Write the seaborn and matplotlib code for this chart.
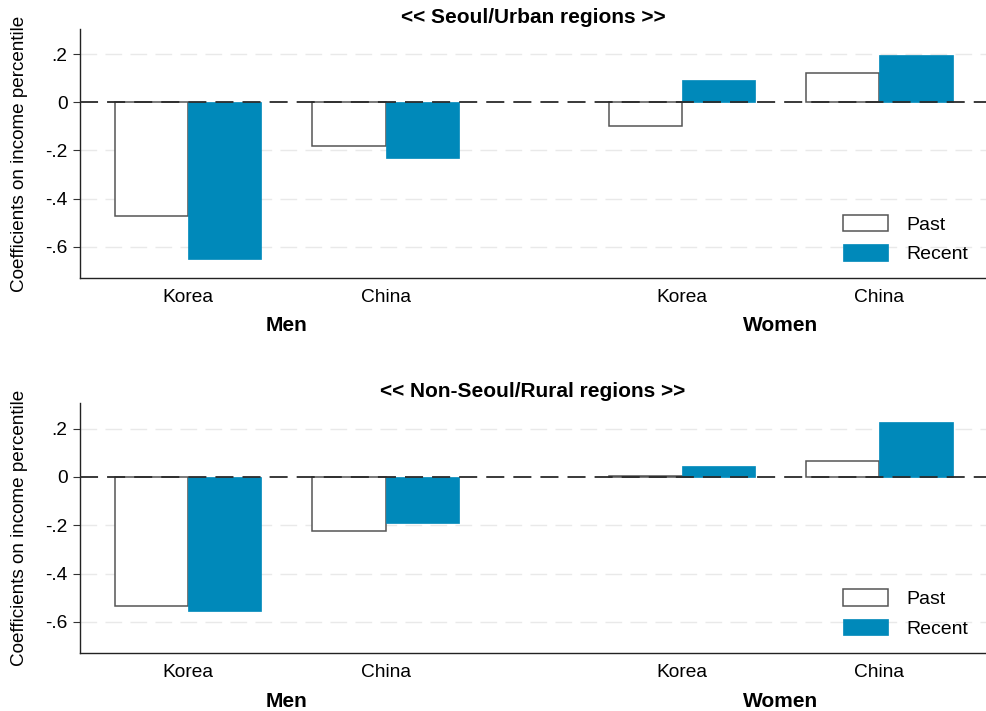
import matplotlib
matplotlib.use("Agg")
import matplotlib.pyplot as plt
import numpy as np
import pandas as pd
import seaborn as sns

# Coefficients on income percentile, by sex and country, for two periods
countries = ["Korea", "China", "Korea", "China"]
genders = ["Men", "Men", "Women", "Women"]
group_pos = [0.0, 1.0, 2.5, 3.5]

urban_past = [-0.473, -0.181, -0.100, 0.123]
urban_recent = [-0.651, -0.233, 0.093, 0.197]
rural_past = [-0.535, -0.225, 0.003, 0.068]
rural_recent = [-0.554, -0.191, 0.046, 0.228]

periods = ["Past", "Recent"]
panel_titles = ["<< Seoul/Urban regions >>", "<< Non-Seoul/Rural regions >>"]
ytick_vals = [0.2, 0.0, -0.2, -0.4, -0.6]
ytick_labels = [".2", "0", "-.2", "-.4", "-.6"]

BLUE = "#0089BA"
EDGE = "#555555"

sns.set_style("white")
plt.rcParams["font.family"] = ["Liberation Sans", "DejaVu Sans"]
plt.rcParams["text.color"] = "black"
plt.rcParams["axes.labelcolor"] = "black"
plt.rcParams["xtick.color"] = "black"
plt.rcParams["ytick.color"] = "black"


def long_frame(past, recent):
    rows = []
    for period, vals in zip(periods, [past, recent]):
        for p, c, g, v in zip(group_pos, countries, genders, vals):
            rows.append({"pos": p, "country": c, "gender": g,
                         "period": period, "coef": v})
    return pd.DataFrame(rows)


fig = plt.figure(figsize=(9.86, 7.11), dpi=100)
W, H = 986.0, 711.0
ax_top = fig.add_axes([80 / W, 1 - 278 / H, 906 / W, 249 / H])
ax_bot = fig.add_axes([80 / W, 1 - 653.3 / H, 906 / W, 250 / H])

panels = [
    (ax_top, long_frame(urban_past, urban_recent), panel_titles[0], 0.254),
    (ax_bot, long_frame(rural_past, rural_recent), panel_titles[1], 0.256),
]

for ax, df, title, leg_y in panels:
    sns.barplot(data=df, x="pos", y="coef", hue="period", hue_order=periods,
                native_scale=True, width=0.742, dodge=True, saturation=1,
                palette={"Past": "white", "Recent": BLUE},
                errorbar=None, legend=False, ax=ax, zorder=2)

    for cont, period in zip(ax.containers, periods):
        for bar in cont:
            if period == "Past":
                bar.set_edgecolor(EDGE)
                bar.set_linewidth(1.1)
            else:
                bar.set_edgecolor(BLUE)
                bar.set_linewidth(0.5)

    ax.set_xlim(-0.548, 4.04)
    ax.set_ylim(-0.73, 0.305)

    # light dashed gridlines and the dashed zero reference line
    for yv in ytick_vals:
        if yv != 0:
            ax.axhline(yv, color="#e9e9e9", lw=1.0, dashes=(12, 6), zorder=0)
    ax.axhline(0, color="#2a2a2a", lw=1.3, dashes=(10, 5), zorder=5)

    ax.set_yticks(ytick_vals)
    ax.set_yticklabels(ytick_labels)
    ax.set_xticks(group_pos)
    ax.set_xticklabels(countries)
    ax.tick_params(axis="y", length=5, width=0.8, color="#333333",
                   labelsize=13.8, pad=4, left=True)
    ax.tick_params(axis="x", length=0, labelsize=13.8, pad=8)
    ax.set_xlabel("")
    ax.set_ylabel("")

    for side in ["top", "right"]:
        ax.spines[side].set_visible(False)
    for side in ["left", "bottom"]:
        ax.spines[side].set_color("#222222")
        ax.spines[side].set_linewidth(1.0)

    # sex group labels centred under each pair of countries
    for gname in ["Men", "Women"]:
        xs = [p for p, g in zip(group_pos, genders) if g == gname]
        ax.annotate(gname, xy=(np.mean(xs), 0), xycoords=("data", "axes fraction"),
                    xytext=(0, -34.5), textcoords="offset points",
                    ha="center", va="center", fontsize=15, fontweight="bold")

    ax.annotate(title, xy=(0.5, 1), xycoords="axes fraction",
                xytext=(0, 8.2), textcoords="offset points",
                ha="center", va="center", fontsize=15, fontweight="bold")

    ax.legend(ax.containers, periods, loc="upper left",
              bbox_to_anchor=(0.8418, leg_y), frameon=False, fontsize=14,
              handlelength=2.33, handleheight=0.93, handletextpad=0.96,
              labelspacing=0.55, borderpad=0, borderaxespad=0)

    ax.set_facecolor("white")

for ax in [ax_top, ax_bot]:
    pos = ax.get_position()
    fig.text(20 / W, (pos.y0 + pos.y1) / 2, "Coefficients on income percentile",
             rotation=90, ha="center", va="center", fontsize=13.6)

fig.savefig("out.png", dpi=100, facecolor="white")
